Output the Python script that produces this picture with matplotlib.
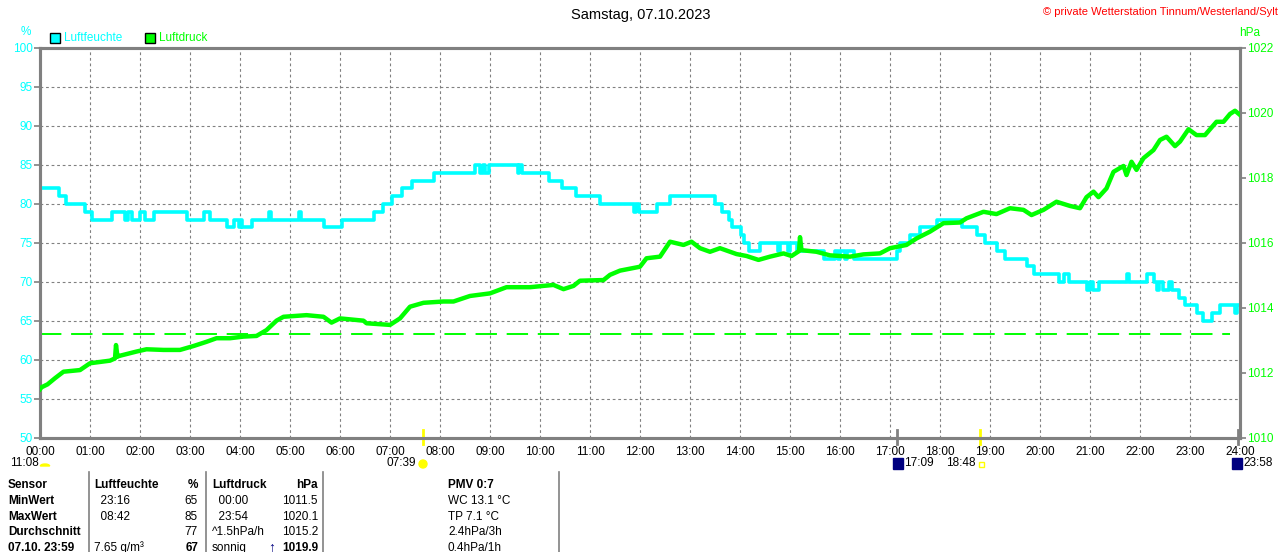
import numpy as np
import matplotlib
matplotlib.use("Agg")
import matplotlib.pyplot as plt
import matplotlib.patches as mpatches

plt.rcParams['font.family'] = ['Liberation Sans', 'DejaVu Sans']

# Luftfeuchte (%), step values, time in hours
hum_hours = [0.0, 0.37, 0.52, 0.90, 1.03, 1.43, 1.70, 1.76, 1.83, 2.0,
             2.1, 2.28, 2.93, 3.28, 3.4, 3.73, 3.87, 3.98, 4.01, 4.03,
             4.23, 4.57, 4.61, 5.17, 5.21, 5.67, 6.03, 6.67, 6.85, 7.03,
             7.23, 7.43, 7.87, 8.7, 8.8, 8.85, 8.9, 8.98, 9.55, 9.58,
             9.63, 10.17, 10.43, 10.71, 11.2, 11.88, 11.92, 11.97, 12.33, 12.59,
             13.5, 13.63, 13.77, 13.83, 14.01, 14.07, 14.17, 14.4, 14.76, 14.8,
             14.96, 15.0, 15.13, 15.67, 15.9, 15.95, 16.0, 16.1, 16.15, 16.27,
             17.13, 17.2, 17.4, 17.6, 17.93, 18.43, 18.73, 18.9, 19.13, 19.3,
             19.73, 19.87, 20.37, 20.47, 20.57, 20.93, 21.0, 21.05, 21.17, 21.73,
             21.77, 22.13, 22.27, 22.33, 22.38, 22.45, 22.57, 22.63, 22.77, 22.9,
             23.13, 23.25, 23.43, 23.6, 23.9, 23.93, 24.0]
hum_values = [82, 81, 80, 79, 78, 79, 78, 79, 78, 79,
              78, 79, 78, 79, 78, 77, 78, 77, 78, 77,
              78, 79, 78, 79, 78, 77, 78, 79, 80, 81,
              82, 83, 84, 85, 84, 85, 84, 85, 84, 85,
              84, 83, 82, 81, 80, 79, 80, 79, 80, 81,
              80, 79, 78, 77, 76, 75, 74, 75, 74, 75,
              74, 75, 74, 73, 74, 73, 74, 73, 74, 73,
              74, 75, 76, 77, 78, 77, 76, 75, 74, 73,
              72, 71, 70, 71, 70, 69, 70, 69, 70, 71,
              70, 71, 70, 69, 70, 69, 70, 69, 68, 67,
              66, 65, 66, 67, 66, 67, 67]

# Luftdruck (hPa)
p_hours = [0.0, 0.03, 0.15, 0.3, 0.47, 0.8, 1.0, 1.4, 1.5, 1.52,
           1.55, 1.57, 1.93, 2.13, 2.47, 2.8, 3.07, 3.33, 3.53, 3.8,
           4.07, 4.33, 4.53, 4.73, 4.87, 5.33, 5.67, 5.83, 6.0, 6.47,
           6.53, 7.0, 7.2, 7.4, 7.67, 8.07, 8.27, 8.6, 9.0, 9.33,
           9.8, 10.27, 10.47, 10.67, 10.8, 11.27, 11.4, 11.6, 12.0, 12.13,
           12.4, 12.6, 12.87, 13.03, 13.2, 13.4, 13.6, 13.93, 14.13, 14.37,
           14.6, 14.87, 15.03, 15.18, 15.2, 15.23, 15.53, 15.8, 16.2, 16.47,
           16.8, 17.0, 17.33, 17.53, 17.8, 18.07, 18.4, 18.53, 18.87, 19.13,
           19.4, 19.67, 19.83, 20.07, 20.33, 20.6, 20.8, 20.93, 21.07, 21.17,
           21.33, 21.47, 21.67, 21.73, 21.83, 21.93, 22.07, 22.27, 22.4, 22.53,
           22.7, 22.8, 22.97, 23.13, 23.3, 23.4, 23.53, 23.67, 23.8, 23.9,
           24.0]
p_values = [1011.5, 1011.56, 1011.65, 1011.84, 1012.04, 1012.09, 1012.3, 1012.38, 1012.45, 1012.86,
            1012.5, 1012.52, 1012.66, 1012.73, 1012.71, 1012.71, 1012.83, 1012.96, 1013.07, 1013.07,
            1013.12, 1013.14, 1013.32, 1013.61, 1013.73, 1013.78, 1013.73, 1013.55, 1013.68, 1013.61,
            1013.53, 1013.48, 1013.68, 1014.04, 1014.16, 1014.2, 1014.2, 1014.37, 1014.45, 1014.64,
            1014.64, 1014.71, 1014.58, 1014.68, 1014.84, 1014.86, 1015.02, 1015.15, 1015.27, 1015.53,
            1015.58, 1016.04, 1015.94, 1016.04, 1015.84, 1015.73, 1015.84, 1015.66, 1015.6, 1015.48,
            1015.58, 1015.68, 1015.6, 1015.75, 1016.18, 1015.78, 1015.73, 1015.62, 1015.58, 1015.65,
            1015.68, 1015.84, 1015.94, 1016.14, 1016.35, 1016.61, 1016.63, 1016.76, 1016.96, 1016.89,
            1017.07, 1017.02, 1016.86, 1017.02, 1017.27, 1017.14, 1017.07, 1017.41, 1017.58, 1017.41,
            1017.68, 1018.19, 1018.37, 1018.09, 1018.5, 1018.25, 1018.61, 1018.86, 1019.17, 1019.27,
            1018.98, 1019.12, 1019.5, 1019.32, 1019.32, 1019.5, 1019.73, 1019.73, 1019.97, 1020.07,
            1019.94]
p_ref = 1013.2

hour_labels = ['%02d:00' % h for h in range(25)]
hum_ticks = list(range(50, 101, 5))
p_ticks = list(range(1010, 1023, 2))

# sun / moon times (hours)
sunrise, sunset = 7 + 39 / 60, 18 + 48 / 60
moonset, moonrise = 17 + 9 / 60, 23 + 58 / 60

table_rows = [
    ['Sensor', 'Luftfeuchte', '%', 'Luftdruck', 'hPa', 'PMV 0:7'],
    ['MinWert', '  23:16', '65', '  00:00', '1011.5', 'WC 13.1 °C'],
    ['MaxWert', '  08:42', '85', '  23:54', '1020.1', 'TP 7.1 °C'],
    ['Durchschnitt', '', '77', '^1.5hPa/h', '1015.2', '2.4hPa/3h'],
    ['07.10. 23:59', '7.65 g/m³', '67', 'sonnig', '1019.9', '0.4hPa/1h'],
]

CYAN = '#00ffff'
GREEN = '#00ff00'
GRAY = '#808080'
W, H = 1280, 552


def fx(x):
    return x / W


def fy(y):
    return 1 - y / H


fig = plt.figure(figsize=(12.8, 5.52), dpi=100)
ax = fig.add_axes([fx(40), fy(438), 1200 / W, 390 / H])
ax2 = ax.twinx()

ax.step(hum_hours, hum_values, where='post', color=CYAN, lw=2.6, zorder=3)
ax2.plot(p_hours, p_values, color=GREEN, lw=3.2, zorder=3)
ax2.plot([0, 23.8], [p_ref, p_ref], color=GREEN, lw=1.4, dashes=(11, 5))

ax.set_xlim(0, 24)
ax.set_ylim(50, 100)
ax2.set_ylim(1010, 1022)
ax.set_xticks(range(25))
ax.set_xticklabels(hour_labels, fontsize=8.5)
ax.set_yticks(hum_ticks)
ax.set_yticklabels([str(v) for v in hum_ticks], fontsize=8.5, color=CYAN)
ax2.set_yticks(p_ticks)
ax2.set_yticklabels([str(v) for v in p_ticks], fontsize=8.5, color=GREEN)

ax.tick_params(axis='x', length=0, pad=6)
ax.tick_params(axis='y', length=4, width=1.2, color=GRAY, pad=1)
ax2.tick_params(axis='y', length=4, width=1.2, color=GRAY, pad=1)
ax.grid(True, color=GRAY, lw=0.8, dashes=(2.5, 2.5))
for a in (ax, ax2):
    for s in a.spines.values():
        s.set_color(GRAY)
        s.set_linewidth(2.2)
ax2.patch.set_visible(False)

# sunrise / sunset and moon markers under the axis
for t, c in [(sunrise, '#ffff00'), (sunset, '#ffff00'), (moonset, GRAY), (moonrise, GRAY)]:
    ax.plot([t, t], [-0.015, 0.02], color=c, lw=2, transform=ax.get_xaxis_transform(),
            clip_on=False, zorder=5)

fig.text(fx(10), fy(463), '11:08', fontsize=8.5, va='center')
fig.patches.append(mpatches.Wedge((fx(45), fy(466)), 0.0036, 0, 180, color='#ffff00',
                                  transform=fig.transFigure, figure=fig))
fig.text(fx(416), fy(463), '07:39', fontsize=8.5, va='center', ha='right')
fig.patches.append(mpatches.Ellipse((fx(423), fy(464)), 8 / W, 8 / H, color='#ffff00',
                                    transform=fig.transFigure, figure=fig))
fig.patches.append(mpatches.Rectangle((fx(893), fy(469)), 10 / W, 11 / H, color='#000080',
                                      transform=fig.transFigure, figure=fig))
fig.text(fx(904), fy(463), '17:09', fontsize=8.5, va='center')
fig.text(fx(976), fy(463), '18:48', fontsize=8.5, va='center', ha='right')
fig.patches.append(mpatches.Rectangle((fx(979), fy(467)), 5 / W, 5 / H, fill=False,
                                      edgecolor='#ffff00', lw=1, transform=fig.transFigure, figure=fig))
fig.patches.append(mpatches.Rectangle((fx(1232), fy(469)), 10 / W, 11 / H, color='#000080',
                                      transform=fig.transFigure, figure=fig))
fig.text(fx(1243), fy(463), '23:58', fontsize=8.5, va='center')

# header
fig.text(fx(641), fy(15), 'Samstag, 07.10.2023', fontsize=10.5, ha='center', va='center')
fig.text(fx(1278), fy(12), '© private Wetterstation Tinnum/Westerland/Sylt', fontsize=8,
         ha='right', va='center', color='red')
fig.text(fx(26), fy(32), '%', fontsize=8.5, ha='center', va='center', color=CYAN)
fig.text(fx(1250), fy(33), 'hPa', fontsize=8.5, ha='center', va='center', color=GREEN)
for x0, col, lab in [(50, CYAN, 'Luftfeuchte'), (145, GREEN, 'Luftdruck')]:
    fig.patches.append(mpatches.Rectangle((fx(x0), fy(43)), 10 / W, 10 / H, facecolor=col,
                                          edgecolor='black', lw=1, transform=fig.transFigure,
                                          figure=fig))
    fig.text(fx(x0 + 14), fy(38), lab, fontsize=8.5, va='center', color=col)

# table
for xs in [89, 205.5, 323, 559]:
    fig.add_artist(plt.Line2D([fx(xs), fx(xs)], [fy(472), fy(552)], color=GRAY, lw=1.2))
row_y = [485, 501, 517, 532, 548]
col_x = [(8, 'left'), (94, 'left'), (198, 'right'), (212, 'left'), (318, 'right'), (448, 'left')]
for i, row in enumerate(table_rows):
    for j, txt in enumerate(row):
        bold = (i == 0) or (j == 0) or (i == 4 and j in (2, 4))
        fig.text(fx(col_x[j][0]), fy(row_y[i]), txt, fontsize=8.5, ha=col_x[j][1], va='center',
                 fontweight='bold' if bold else 'normal')
fig.text(fx(275), fy(548), '↑', fontsize=10, ha='right', va='center', color='#000080',
         fontweight='bold')

fig.savefig('out.png', dpi=100)
